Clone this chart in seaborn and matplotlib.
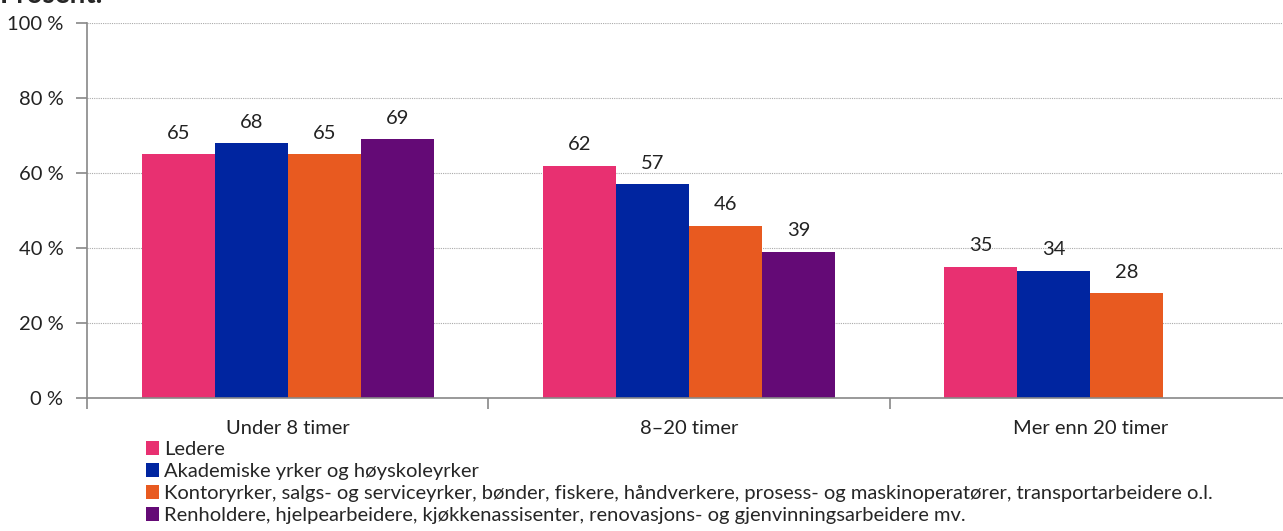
import matplotlib
matplotlib.use("Agg")
import matplotlib.pyplot as plt
import numpy as np
import pandas as pd
import seaborn as sns

groups = ["Under 8 timer", "8–20 timer", "Mer enn 20 timer"]
occupations = [
    "Ledere",
    "Akademiske yrker og høyskoleyrker",
    "Kontoryrker, salgs- og serviceyrker, bønder, fiskere, håndverkere, prosess- og maskinoperatører, transportarbeidere o.l.",
    "Renholdere, hjelpearbeidere, kjøkkenassisenter, renovasjons- og gjenvinningsarbeidere mv.",
]
ledere = [65, 62, 35]
akademiske = [68, 57, 34]
kontor = [65, 46, 28]
renholdere = [69, 39, np.nan]
colors = ["#E83071", "#0025A0", "#E85A20", "#640A76"]

rows = []
for occ, vals in zip(occupations, [ledere, akademiske, kontor, renholdere]):
    for g, v in zip(groups, vals):
        rows.append({"gruppe": g, "yrke": occ, "andel": v})
df = pd.DataFrame(rows)

sns.set_theme(style="white")
plt.rcParams["font.family"] = ["Lato", "DejaVu Sans"]
fs = 14.5

fig = plt.figure(figsize=(12.83, 5.31), dpi=100)
ax = fig.add_axes([87 / 1283, 133 / 531, 1204 / 1283, 375 / 531])

sns.barplot(data=df, x="gruppe", y="andel", hue="yrke", hue_order=occupations,
            palette=colors, width=0.727, saturation=1, ax=ax, linewidth=0)

for c in ax.containers:
    ax.bar_label(c, fmt="%.0f", padding=9, fontsize=fs, color="#222222")

ax.set_xlim(-0.5, 2.5)
ax.set_ylim(0, 100)
ax.set_yticks([0, 20, 40, 60, 80, 100])
ax.set_yticklabels([f"{v} %" for v in [0, 20, 40, 60, 80, 100]], fontsize=fs, color="#222222")
ax.yaxis.grid(True, linestyle=(0, (1, 1)), color="#aaaaaa", linewidth=0.8)
ax.set_axisbelow(True)
ax.tick_params(axis="y", length=8, width=1.2, color="#888888", pad=9, left=True)
ax.tick_params(axis="x", which="major", length=0, pad=16, labelsize=fs, labelcolor="#222222")
ax.set_xticks([-0.5, 0.5, 1.5], minor=True)
ax.tick_params(axis="x", which="minor", length=8, width=1.2, color="#888888", bottom=True)
ax.set_xlabel("")
ax.set_ylabel("")
for s in ["top", "right"]:
    ax.spines[s].set_visible(False)
for s in ["left", "bottom"]:
    ax.spines[s].set_color("#888888")
    ax.spines[s].set_linewidth(1.2)

handles, labels = ax.get_legend_handles_labels()
ax.get_legend().remove()
fig.legend(handles, labels, loc="upper left", bbox_to_anchor=(146 / 1283, 90 / 531),
           frameon=False, fontsize=fs, handlelength=0.65, handleheight=0.65,
           handletextpad=0.25, labelspacing=0.25, borderaxespad=0, borderpad=0)

fig.text(0.0, 528 / 531, "Prosent.", fontsize=20, fontweight="bold", va="baseline", ha="left")

fig.savefig("out.png", dpi=100)
